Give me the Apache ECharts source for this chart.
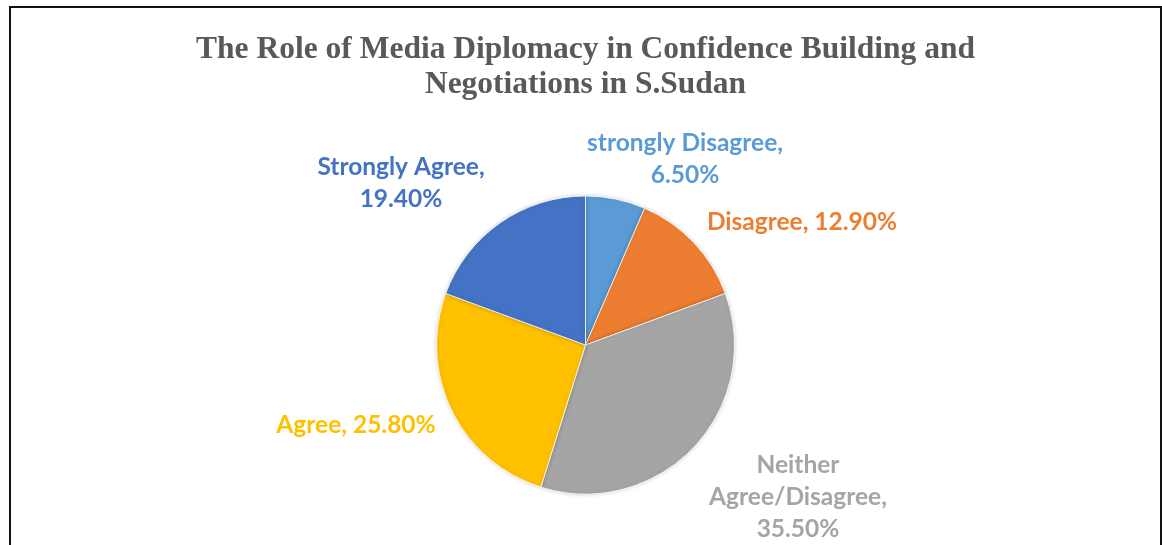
<!DOCTYPE html>
<html>
<head>
<meta charset="utf-8">
<script src="https://cdn.jsdelivr.net/npm/echarts@6/dist/echarts.min.js"></script>
<style>
  html, body { margin: 0; padding: 0; background: #fff; width: 1162px; height: 545px; overflow: hidden; }
  #frame {
    position: absolute; left: 9px; top: 6px;
    width: 1149px; height: 600px;
    border: 2px solid #111; border-bottom: none;
  }
  #chart { width: 1149px; height: 537px; }
</style>
</head>
<body>
<div id="frame"><div id="chart"></div></div>
<script>
// Survey responses, clockwise from 12 o'clock
const categories = ['strongly Disagree', 'Disagree', 'Neither Agree/Disagree', 'Agree', 'Strongly Agree'];
const shares = [6.5, 12.9, 35.5, 25.8, 19.4];
const labelTexts = [
  'strongly Disagree,\n6.50%',
  'Disagree, 12.90%',
  'Neither\nAgree/Disagree,\n35.50%',
  'Agree, 25.80%',
  'Strongly Agree,\n19.40%'
];
const colors = ['#5B9BD5', '#ED7D31', '#A5A5A5', '#FFC000', '#4472C4'];

// Label anchor points (block centers) around the pie, in canvas pixels
const labelAnchors = [
  [674, 151],
  [791, 214],
  [787, 489],
  [345, 417],
  [390, 175]
];

const chart = echarts.init(document.getElementById('chart'), null, { renderer: 'canvas' });

chart.setOption({
  animation: false,
  title: {
    text: 'The Role of Media Diplomacy in Confidence Building and\nNegotiations in S.Sudan',
    left: 'center',
    top: 19,
    textStyle: {
      fontFamily: '"Liberation Serif", "Times New Roman", serif',
      fontWeight: 'bold',
      fontSize: 31.5,
      lineHeight: 35,
      color: '#595959'
    }
  },
  series: [{
    type: 'pie',
    center: ['50%', 337],
    radius: 149,
    startAngle: 90,
    clockwise: true,
    data: categories.map((name, i) => ({
      name: name,
      value: shares[i],
      itemStyle: { color: colors[i] },
      label: { color: colors[i], formatter: labelTexts[i] }
    })),
    itemStyle: {
      borderColor: '#ffffff',
      borderWidth: 0.8,
      shadowBlur: 4,
      shadowColor: 'rgba(0,0,0,0.18)'
    },
    label: {
      show: true,
      position: 'outside',
      fontFamily: 'Lato, "Open Sans", sans-serif',
      fontWeight: 'bold',
      fontSize: 24.5,
      lineHeight: 32,
      align: 'center'
    },
    labelLine: { show: false },
    labelLayout: function (params) {
      const p = labelAnchors[params.dataIndex];
      return { x: p[0], y: p[1], align: 'center', verticalAlign: 'middle' };
    },
    emphasis: { disabled: true }
  }]
});
</script>
</body>
</html>
